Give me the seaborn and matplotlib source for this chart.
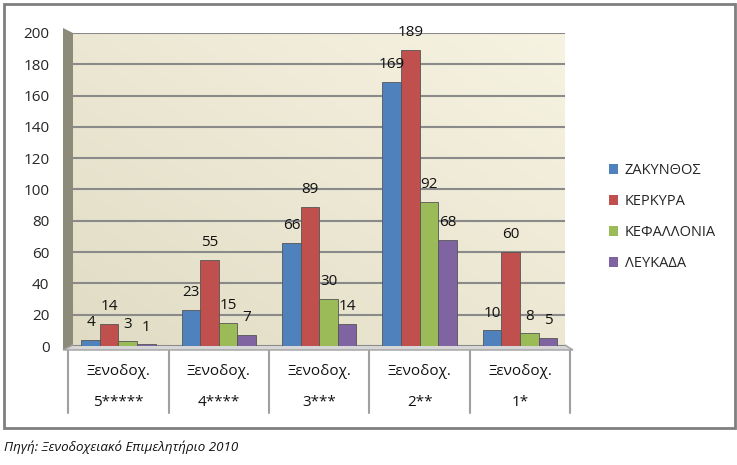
import numpy as np
import pandas as pd
import matplotlib
matplotlib.use("Agg")
import matplotlib.pyplot as plt
import seaborn as sns
from matplotlib.patches import Rectangle, Polygon
from matplotlib.colors import LinearSegmentedColormap

# ---- data ----
cat_line1 = ["Ξενοδοχ.", "Ξενοδοχ.", "Ξενοδοχ.", "Ξενοδοχ.", "Ξενοδοχ."]
cat_line2 = ["5*****", "4****", "3***", "2**", "1*"]
islands = ["ΖΑΚΥΝΘΟΣ", "ΚΕΡΚΥΡΑ", "ΚΕΦΑΛΛΟΝΙΑ", "ΛΕΥΚΑΔΑ"]
zakynthos = [4, 23, 66, 169, 10]
kerkyra = [14, 55, 89, 189, 60]
kefallonia = [3, 15, 30, 92, 8]
lefkada = [1, 7, 14, 68, 5]
colors = ["#4F81BD", "#C0504D", "#9BBB59", "#8064A2"]
yticks = list(range(0, 201, 20))
source = "Πηγή: Ξενοδοχειακό Επιμελητήριο 2010"

series = [zakynthos, kerkyra, kefallonia, lefkada]
cats = [a + " " + b for a, b in zip(cat_line1, cat_line2)]
rows = []
for isl, vals in zip(islands, series):
    for c, v in zip(cats, vals):
        rows.append({"cat": c, "island": isl, "value": v})
df = pd.DataFrame(rows)

sns.set_theme(style="white")
plt.rcParams["font.family"] = ["Open Sans", "DejaVu Sans"]

W, H = 737, 465
fig = plt.figure(figsize=(W / 100, H / 100), dpi=100)

def fx(px):
    return px / W

def fy(py):
    return 1 - py / H

ax = fig.add_axes([fx(73), fy(346), fx(565) - fx(73), fy(33) - fy(346)])
ax.patch.set_visible(False)

# back wall gradient
g = np.linspace(0, 1, 256)
grad = (g[None, :] + g[::-1][:, None]) / 2
cmap = LinearSegmentedColormap.from_list("wall", ["#E0DCC4", "#F7F3E2"])
ax.imshow(grad, extent=[0, 1, 0, 1], transform=ax.transAxes, aspect="auto",
          cmap=cmap, zorder=-2, interpolation="bilinear")

sns.barplot(data=df, x="cat", y="value", hue="island", hue_order=islands,
            palette=colors, width=0.74, saturation=1, ax=ax, legend=False,
            linewidth=0.6, edgecolor="#555555", zorder=3)

for cont in ax.containers:
    ax.bar_label(cont, padding=7, fontsize=11, color="#111111")

ax.set_xlim(-0.453, 4.448)
ax.set_ylim(0, 200)
ax.set_yticks(yticks)
ax.set_yticklabels([str(t) for t in yticks], fontsize=11)
ax.yaxis.grid(True, color="#8A8A8A", lw=1.5, zorder=-1)
ax.set_axisbelow(True)
ax.tick_params(axis="y", length=10, color="#8A8A8A", width=1.2, pad=7)
ax.tick_params(axis="x", length=0)
ax.set_xticks(range(5))
ax.set_xticklabels([""] * 5)
ax.set_xlabel("")
ax.set_ylabel("")
for s in ax.spines.values():
    s.set_visible(False)

# category table
tr = ax.get_xaxis_transform()
for i in range(6):
    ax.plot([i - 0.5, i - 0.5], [-0.015, -0.215], transform=tr, color="#A0A0A0",
            lw=1.5, clip_on=False)
for i in range(5):
    ax.text(i, -0.083, cat_line1[i], transform=tr, ha="center", va="center",
            fontsize=11, color="#111111")
    ax.text(i, -0.182, cat_line2[i], transform=tr, ha="center", va="center",
            fontsize=11, color="#111111")

# side wall and floor
wall = Polygon([(fx(63), fy(28)), (fx(73), fy(33)), (fx(73), fy(346)), (fx(63), fy(350))],
               closed=True, transform=fig.transFigure, facecolor="#8C8B7A",
               edgecolor="none", zorder=-1)
fig.patches.append(wall)
floor = Polygon([(fx(63), fy(350)), (fx(73), fy(345)), (fx(565), fy(345)), (fx(573), fy(350))],
                closed=True, transform=fig.transFigure, facecolor="#D6D6D6",
                edgecolor="#A0A0A0", lw=1, zorder=-1)
fig.patches.append(floor)

# legend
handles = [Rectangle((0, 0), 1, 1, facecolor=c, edgecolor="none") for c in colors]
fig.legend(handles, islands, loc="upper left", bbox_to_anchor=(fx(603), fy(157)),
           frameon=False, fontsize=10.5, handlelength=0.65, handleheight=0.65,
           handletextpad=0.45, labelspacing=1.1, borderaxespad=0)

# outer border
fig.patches.append(Rectangle((fx(4), fy(428)), fx(735) - fx(4), fy(4) - fy(428),
                             transform=fig.transFigure, fill=False,
                             edgecolor="#7F7F7F", lw=2, zorder=5))

fig.text(fx(4), fy(447), source, fontsize=9.6, style="italic", ha="left", va="center",
         color="#111111")

fig.savefig("out.png", dpi=100)
